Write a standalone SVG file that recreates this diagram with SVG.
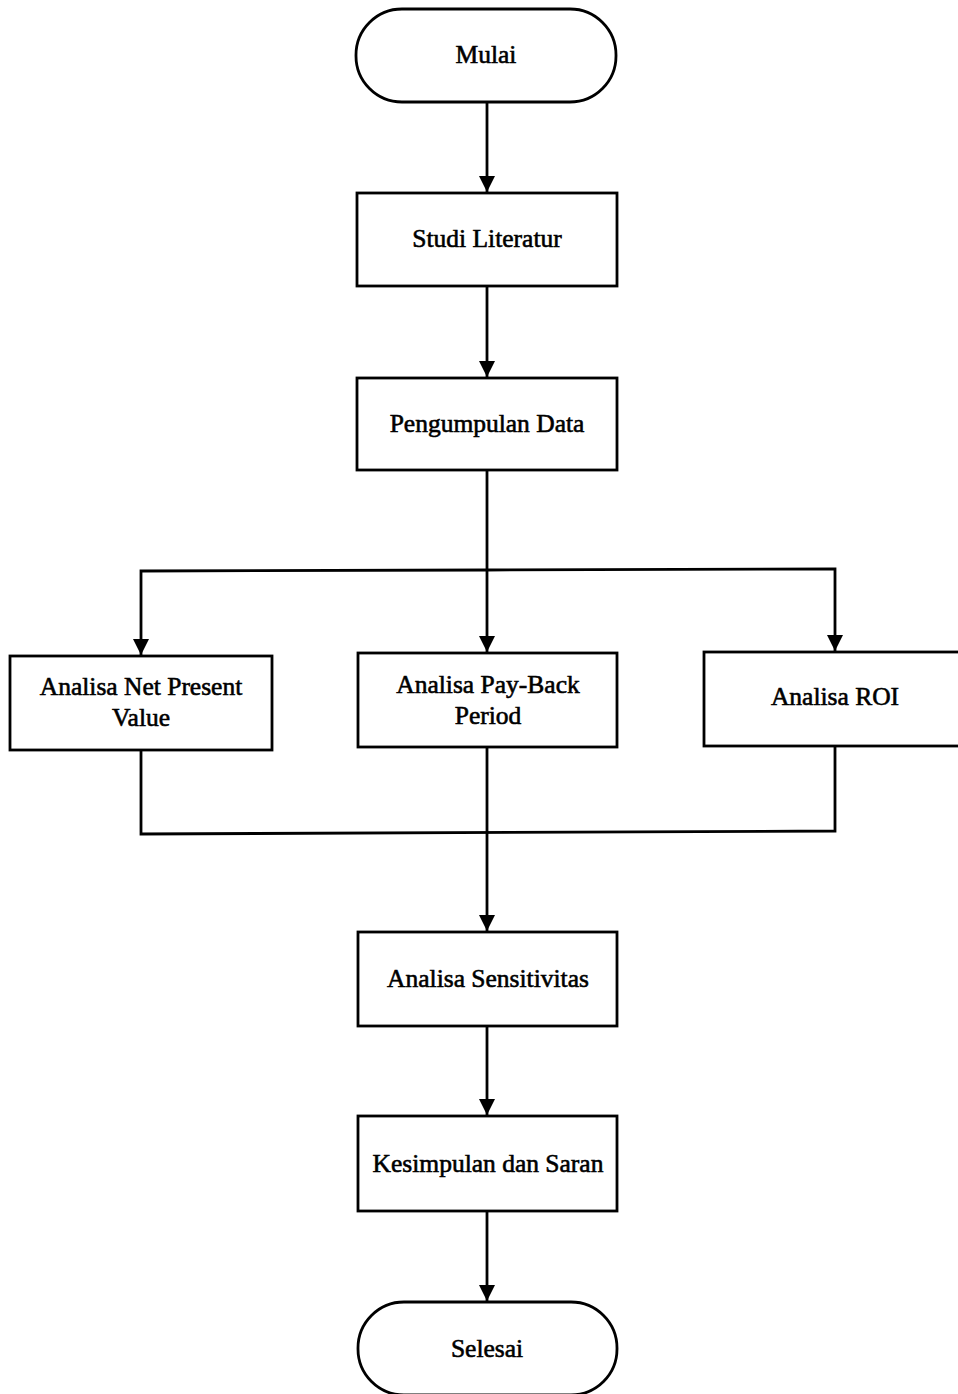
<svg xmlns="http://www.w3.org/2000/svg" width="958" height="1394" viewBox="0 0 958 1394">
<style>
.box{fill:#fff;stroke:#000;stroke-width:2.8}
.t{font-family:"Liberation Serif","Times New Roman",serif;font-size:25.5px;fill:#000;text-anchor:middle;stroke:#000;stroke-width:0.6}
.c{fill:none;stroke:#000;stroke-width:2.8}
</style>
<defs>
<marker id="ah" markerWidth="16" markerHeight="18" refX="16" refY="9" orient="auto" markerUnits="userSpaceOnUse">
<path d="M0,1 L16,9 L0,17 Z" fill="#000"/>
</marker>
</defs>
<rect width="958" height="1394" fill="#fff"/>
<g id="connectors">
<line class="c" x1="487" y1="102" x2="487" y2="192" marker-end="url(#ah)"/>
<line class="c" x1="487" y1="286" x2="487" y2="377" marker-end="url(#ah)"/>
<line class="c" x1="487" y1="470" x2="487" y2="652" marker-end="url(#ah)"/>
<polyline class="c" points="487,570 141,571 141,655" marker-end="url(#ah)"/>
<polyline class="c" points="487,570 835,569 835,651" marker-end="url(#ah)"/>
<polyline class="c" points="141,750 141,834 835,831 835,746"/>
<line class="c" x1="487" y1="747" x2="487" y2="931" marker-end="url(#ah)"/>
<line class="c" x1="487" y1="1026" x2="487" y2="1115" marker-end="url(#ah)"/>
<line class="c" x1="487" y1="1211" x2="487" y2="1301" marker-end="url(#ah)"/>
</g>
<g id="mulai">
<rect class="box" x="356" y="9" width="260" height="93" rx="46" ry="46"/>
<text class="t" x="486" y="63">Mulai</text>
</g>
<g id="studi">
<rect class="box" x="357" y="193" width="260" height="93"/>
<text class="t" x="487" y="247">Studi Literatur</text>
</g>
<g id="pengumpulan">
<rect class="box" x="357" y="378" width="260" height="92"/>
<text class="t" x="487" y="432">Pengumpulan Data</text>
</g>
<g id="npv">
<rect class="box" x="10" y="656" width="262" height="94"/>
<text class="t" x="141" y="695">Analisa Net Present</text>
<text class="t" x="141" y="726">Value</text>
</g>
<g id="payback">
<rect class="box" x="358" y="653" width="259" height="94"/>
<text class="t" x="488" y="693">Analisa Pay-Back</text>
<text class="t" x="488" y="724">Period</text>
</g>
<g id="roi">
<rect class="box" x="704" y="652" width="260" height="94"/>
<text class="t" x="835" y="705">Analisa ROI</text>
</g>
<g id="sensitivitas">
<rect class="box" x="358" y="932" width="259" height="94"/>
<text class="t" x="488" y="987">Analisa Sensitivitas</text>
</g>
<g id="kesimpulan">
<rect class="box" x="358" y="1116" width="259" height="95"/>
<text class="t" x="488" y="1172">Kesimpulan dan Saran</text>
</g>
<g id="selesai">
<rect class="box" x="358" y="1302" width="259" height="93" rx="46" ry="46"/>
<text class="t" x="487" y="1357">Selesai</text>
</g>
</svg>
